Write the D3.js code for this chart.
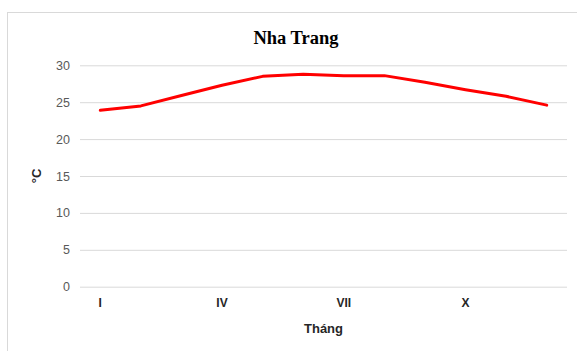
<!DOCTYPE html>
<html>
<head>
<meta charset="utf-8">
<script src="https://cdn.jsdelivr.net/npm/d3@7/dist/d3.min.js"></script>
<style>
  html, body { margin: 0; padding: 0; background: #fff; }
  svg { display: block; }
</style>
</head>
<body>
<svg id="chart" width="577" height="351"></svg>
<script>
// Monthly mean temperature, Nha Trang (°C)
const months = ["I","II","III","IV","V","VI","VII","VIII","IX","X","XI","XII"];
const temps = [23.9, 24.5, 25.9, 27.3, 28.5, 28.8, 28.6, 28.6, 27.7, 26.7, 25.8, 24.6];
const shownMonths = ["I","IV","VII","X"];
const yTicks = [0, 5, 10, 15, 20, 25, 30];

const svg = d3.select("#chart");
const W = 577, H = 351;
const plot = { left: 80, right: 567, top: 65.3, bottom: 286.7 };

// chart frame
svg.append("rect")
  .attr("x", 7.5).attr("y", 12.5)
  .attr("width", W + 10).attr("height", H + 10)
  .attr("fill", "#fff").attr("stroke", "#d9d9d9").attr("stroke-width", 1);

const x = d3.scaleBand().domain(months).range([plot.left, plot.right]);
const y = d3.scaleLinear().domain([0, 30]).range([plot.bottom, plot.top]);

// horizontal gridlines + value labels
const yAxis = d3.axisLeft(y).tickValues(yTicks).tickSize(-(plot.right - plot.left)).tickPadding(10);
const gy = svg.append("g").attr("transform", `translate(${plot.left},0)`).call(yAxis);
gy.select(".domain").remove();
gy.selectAll(".tick line").attr("stroke", "#d9d9d9").attr("stroke-width", 1);
gy.selectAll(".tick text")
  .attr("fill", "#595959")
  .style("font-family", "'Liberation Sans', Arial, sans-serif")
  .style("font-size", "12.5px");

// month labels
const xAxis = d3.axisBottom(x).tickValues(shownMonths).tickSize(0).tickPadding(12);
const gx = svg.append("g").attr("transform", `translate(0,${plot.bottom})`).call(xAxis);
gx.select(".domain").remove();
gx.selectAll(".tick text")
  .attr("fill", "#262626")
  .style("font-family", "'Liberation Sans', Arial, sans-serif")
  .style("font-size", "12px")
  .style("font-weight", "bold");

// temperature line
const line = d3.line()
  .x((d, i) => x(months[i]) + x.bandwidth() / 2)
  .y(d => y(d));
svg.append("path")
  .datum(temps)
  .attr("d", line)
  .attr("fill", "none")
  .attr("stroke", "#ff0000")
  .attr("stroke-width", 3)
  .attr("stroke-linejoin", "round")
  .attr("stroke-linecap", "round");

// title
svg.append("text")
  .attr("x", 296).attr("y", 44)
  .attr("text-anchor", "middle")
  .attr("fill", "#000")
  .style("font-family", "'Liberation Serif', 'Times New Roman', serif")
  .style("font-size", "18.5px")
  .style("font-weight", "bold")
  .text("Nha Trang");

// axis titles
svg.append("text")
  .attr("x", (plot.left + plot.right) / 2).attr("y", 333)
  .attr("text-anchor", "middle")
  .attr("fill", "#262626")
  .style("font-family", "'Liberation Sans', Arial, sans-serif")
  .style("font-size", "13px")
  .style("font-weight", "bold")
  .text("Tháng");

svg.append("text")
  .attr("transform", `translate(41,176) rotate(-90)`)
  .attr("text-anchor", "middle")
  .attr("fill", "#262626")
  .style("font-family", "'Liberation Sans', Arial, sans-serif")
  .style("font-size", "13px")
  .style("font-weight", "bold")
  .text("°C");
</script>
</body>
</html>
